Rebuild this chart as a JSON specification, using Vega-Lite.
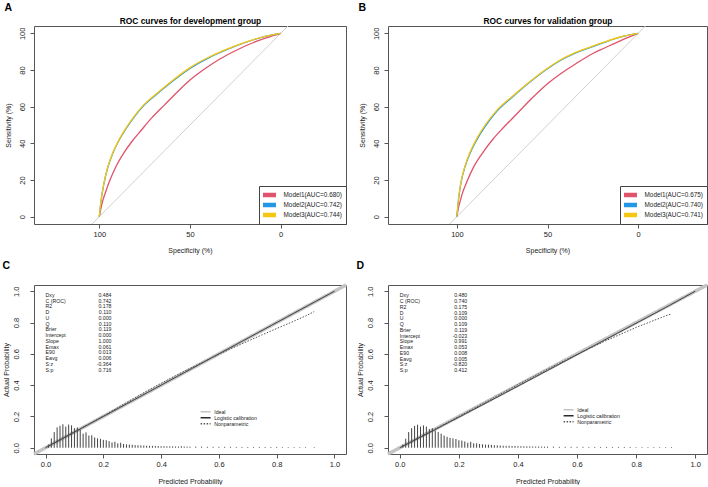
{
"$schema": "https://vega.github.io/schema/vega-lite/v6.json",
"background": "white",
"padding": {"left": 2, "top": 2, "right": 0, "bottom": 0},
"config": {
  "font": "Liberation Sans",
  "view": {"stroke": "#555", "strokeWidth": 1},
  "axis": {"grid": false, "domain": false, "tickColor": "#555", "tickSize": 4, "labelFontSize": 7.5, "titleFontSize": 7, "titleFontWeight": "normal", "labelColor": "#222", "titleColor": "#222", "labelFlush": false, "labelOverlap": false},
  "title": {"anchor": "start", "frame": "bounds", "fontSize": 10.5, "fontWeight": "bold", "color": "black"}
},
"columns": 2,
"bounds": "flush",
"spacing": {"row": 61, "column": 42},
"resolve": {"scale": {"color": "independent", "strokeDash": "independent"}, "legend": {"color": "independent", "strokeDash": "independent"}},
"datasets": {
  "diag": [{"spec": 140, "sens": -40}, {"spec": -40, "sens": 140}],
  "rocA": [
    {"model": "Model1(AUC=0.680)", "spec": 100, "sens": 0}, {"model": "Model1(AUC=0.680)", "spec": 99, "sens": 5}, {"model": "Model1(AUC=0.680)", "spec": 98, "sens": 9}, {"model": "Model1(AUC=0.680)", "spec": 96.5, "sens": 13.5}, {"model": "Model1(AUC=0.680)", "spec": 94.5, "sens": 19}, {"model": "Model1(AUC=0.680)", "spec": 91, "sens": 27}, {"model": "Model1(AUC=0.680)", "spec": 86, "sens": 35.5}, {"model": "Model1(AUC=0.680)", "spec": 82, "sens": 41}, {"model": "Model1(AUC=0.680)", "spec": 77, "sens": 47}, {"model": "Model1(AUC=0.680)", "spec": 71, "sens": 54}, {"model": "Model1(AUC=0.680)", "spec": 64, "sens": 61}, {"model": "Model1(AUC=0.680)", "spec": 57, "sens": 68}, {"model": "Model1(AUC=0.680)", "spec": 50, "sens": 74.5}, {"model": "Model1(AUC=0.680)", "spec": 42, "sens": 80.5}, {"model": "Model1(AUC=0.680)", "spec": 33.5, "sens": 86}, {"model": "Model1(AUC=0.680)", "spec": 25, "sens": 90.5}, {"model": "Model1(AUC=0.680)", "spec": 15, "sens": 95}, {"model": "Model1(AUC=0.680)", "spec": 8, "sens": 97.5}, {"model": "Model1(AUC=0.680)", "spec": 0, "sens": 100},
    {"model": "Model2(AUC=0.742)", "spec": 100, "sens": 0}, {"model": "Model2(AUC=0.742)", "spec": 99, "sens": 8.8}, {"model": "Model2(AUC=0.742)", "spec": 97.5, "sens": 17.8}, {"model": "Model2(AUC=0.742)", "spec": 95.2, "sens": 27.2}, {"model": "Model2(AUC=0.742)", "spec": 92.5, "sens": 34.7}, {"model": "Model2(AUC=0.742)", "spec": 89.4, "sens": 41.1}, {"model": "Model2(AUC=0.742)", "spec": 85.2, "sens": 48.1}, {"model": "Model2(AUC=0.742)", "spec": 80.6, "sens": 54.6}, {"model": "Model2(AUC=0.742)", "spec": 75, "sens": 61.1}, {"model": "Model2(AUC=0.742)", "spec": 68, "sens": 67.1}, {"model": "Model2(AUC=0.742)", "spec": 60, "sens": 73.6}, {"model": "Model2(AUC=0.742)", "spec": 50, "sens": 80.9}, {"model": "Model2(AUC=0.742)", "spec": 40, "sens": 86.5}, {"model": "Model2(AUC=0.742)", "spec": 33, "sens": 89.7}, {"model": "Model2(AUC=0.742)", "spec": 25, "sens": 93}, {"model": "Model2(AUC=0.742)", "spec": 15, "sens": 96.5}, {"model": "Model2(AUC=0.742)", "spec": 8, "sens": 98.45}, {"model": "Model2(AUC=0.742)", "spec": 0, "sens": 100},
    {"model": "Model3(AUC=0.744)", "spec": 100, "sens": 0}, {"model": "Model3(AUC=0.744)", "spec": 99, "sens": 9}, {"model": "Model3(AUC=0.744)", "spec": 97.5, "sens": 18}, {"model": "Model3(AUC=0.744)", "spec": 95.2, "sens": 27.5}, {"model": "Model3(AUC=0.744)", "spec": 92.5, "sens": 35}, {"model": "Model3(AUC=0.744)", "spec": 89.4, "sens": 41.5}, {"model": "Model3(AUC=0.744)", "spec": 85.2, "sens": 48.5}, {"model": "Model3(AUC=0.744)", "spec": 80.6, "sens": 55}, {"model": "Model3(AUC=0.744)", "spec": 75, "sens": 61.5}, {"model": "Model3(AUC=0.744)", "spec": 68, "sens": 67.5}, {"model": "Model3(AUC=0.744)", "spec": 60, "sens": 74}, {"model": "Model3(AUC=0.744)", "spec": 50, "sens": 81.3}, {"model": "Model3(AUC=0.744)", "spec": 40, "sens": 86.8}, {"model": "Model3(AUC=0.744)", "spec": 33, "sens": 90}, {"model": "Model3(AUC=0.744)", "spec": 25, "sens": 93.2}, {"model": "Model3(AUC=0.744)", "spec": 15, "sens": 96.6}, {"model": "Model3(AUC=0.744)", "spec": 8, "sens": 98.5}, {"model": "Model3(AUC=0.744)", "spec": 0, "sens": 100}
  ],
  "rocB": [
    {"model": "Model1(AUC=0.675)", "spec": 100, "sens": 0}, {"model": "Model1(AUC=0.675)", "spec": 99.1, "sens": 5}, {"model": "Model1(AUC=0.675)", "spec": 98, "sens": 9}, {"model": "Model1(AUC=0.675)", "spec": 97.2, "sens": 12}, {"model": "Model1(AUC=0.675)", "spec": 94.5, "sens": 19}, {"model": "Model1(AUC=0.675)", "spec": 90.8, "sens": 27}, {"model": "Model1(AUC=0.675)", "spec": 85.3, "sens": 35.5}, {"model": "Model1(AUC=0.675)", "spec": 79.9, "sens": 42.5}, {"model": "Model1(AUC=0.675)", "spec": 74.4, "sens": 48.5}, {"model": "Model1(AUC=0.675)", "spec": 67, "sens": 56}, {"model": "Model1(AUC=0.675)", "spec": 59.7, "sens": 63.5}, {"model": "Model1(AUC=0.675)", "spec": 50, "sens": 72.5}, {"model": "Model1(AUC=0.675)", "spec": 42, "sens": 78.5}, {"model": "Model1(AUC=0.675)", "spec": 35, "sens": 83}, {"model": "Model1(AUC=0.675)", "spec": 25, "sens": 89}, {"model": "Model1(AUC=0.675)", "spec": 18.5, "sens": 92}, {"model": "Model1(AUC=0.675)", "spec": 9.3, "sens": 96.2}, {"model": "Model1(AUC=0.675)", "spec": 0, "sens": 100},
    {"model": "Model2(AUC=0.740)", "spec": 100, "sens": 0}, {"model": "Model2(AUC=0.740)", "spec": 99.1, "sens": 9.3}, {"model": "Model2(AUC=0.740)", "spec": 97.8, "sens": 18.2}, {"model": "Model2(AUC=0.740)", "spec": 95.4, "sens": 27.5}, {"model": "Model2(AUC=0.740)", "spec": 92.7, "sens": 34.6}, {"model": "Model2(AUC=0.740)", "spec": 89, "sens": 41.9}, {"model": "Model2(AUC=0.740)", "spec": 84.4, "sens": 49.2}, {"model": "Model2(AUC=0.740)", "spec": 78, "sens": 57.5}, {"model": "Model2(AUC=0.740)", "spec": 69, "sens": 65.6}, {"model": "Model2(AUC=0.740)", "spec": 60, "sens": 73.2}, {"model": "Model2(AUC=0.740)", "spec": 50, "sens": 80.7}, {"model": "Model2(AUC=0.740)", "spec": 42, "sens": 85.7}, {"model": "Model2(AUC=0.740)", "spec": 35, "sens": 89.1}, {"model": "Model2(AUC=0.740)", "spec": 25, "sens": 92.8}, {"model": "Model2(AUC=0.740)", "spec": 18.5, "sens": 95.1}, {"model": "Model2(AUC=0.740)", "spec": 10, "sens": 97.9}, {"model": "Model2(AUC=0.740)", "spec": 0, "sens": 100},
    {"model": "Model3(AUC=0.741)", "spec": 100, "sens": 0}, {"model": "Model3(AUC=0.741)", "spec": 99.1, "sens": 9.5}, {"model": "Model3(AUC=0.741)", "spec": 97.8, "sens": 18.5}, {"model": "Model3(AUC=0.741)", "spec": 95.4, "sens": 28}, {"model": "Model3(AUC=0.741)", "spec": 92.7, "sens": 35.3}, {"model": "Model3(AUC=0.741)", "spec": 89, "sens": 42.7}, {"model": "Model3(AUC=0.741)", "spec": 84.4, "sens": 50}, {"model": "Model3(AUC=0.741)", "spec": 78, "sens": 58}, {"model": "Model3(AUC=0.741)", "spec": 69, "sens": 66}, {"model": "Model3(AUC=0.741)", "spec": 60, "sens": 73.5}, {"model": "Model3(AUC=0.741)", "spec": 50, "sens": 81}, {"model": "Model3(AUC=0.741)", "spec": 42, "sens": 86}, {"model": "Model3(AUC=0.741)", "spec": 35, "sens": 89.3}, {"model": "Model3(AUC=0.741)", "spec": 25, "sens": 93}, {"model": "Model3(AUC=0.741)", "spec": 18.5, "sens": 95.3}, {"model": "Model3(AUC=0.741)", "spec": 10, "sens": 98}, {"model": "Model3(AUC=0.741)", "spec": 0, "sens": 100}
  ],
  "calC": [
    {"type": "Ideal", "p": -0.04, "a": -0.04}, {"type": "Ideal", "p": 1.04, "a": 1.04},
    {"type": "Logistic calibration", "p": 0, "a": 0}, {"type": "Logistic calibration", "p": 0.5, "a": 0.5}, {"type": "Logistic calibration", "p": 1, "a": 1},
    {"type": "Nonparametric", "p": 0.01, "a": 0.012}, {"type": "Nonparametric", "p": 0.05, "a": 0.052}, {"type": "Nonparametric", "p": 0.1, "a": 0.101}, {"type": "Nonparametric", "p": 0.15, "a": 0.152}, {"type": "Nonparametric", "p": 0.2, "a": 0.203}, {"type": "Nonparametric", "p": 0.25, "a": 0.256}, {"type": "Nonparametric", "p": 0.3, "a": 0.31}, {"type": "Nonparametric", "p": 0.35, "a": 0.362}, {"type": "Nonparametric", "p": 0.4, "a": 0.412}, {"type": "Nonparametric", "p": 0.45, "a": 0.461}, {"type": "Nonparametric", "p": 0.5, "a": 0.507}, {"type": "Nonparametric", "p": 0.55, "a": 0.552}, {"type": "Nonparametric", "p": 0.6, "a": 0.597}, {"type": "Nonparametric", "p": 0.65, "a": 0.64}, {"type": "Nonparametric", "p": 0.7, "a": 0.681}, {"type": "Nonparametric", "p": 0.75, "a": 0.722}, {"type": "Nonparametric", "p": 0.8, "a": 0.762}, {"type": "Nonparametric", "p": 0.85, "a": 0.801}, {"type": "Nonparametric", "p": 0.9, "a": 0.842}, {"type": "Nonparametric", "p": 0.93, "a": 0.87}
  ],
  "calD": [
    {"type": "Ideal", "p": -0.04, "a": -0.04}, {"type": "Ideal", "p": 1.04, "a": 1.04},
    {"type": "Logistic calibration", "p": 0, "a": 0}, {"type": "Logistic calibration", "p": 0.1, "a": 0.097}, {"type": "Logistic calibration", "p": 0.3, "a": 0.294}, {"type": "Logistic calibration", "p": 0.5, "a": 0.494}, {"type": "Logistic calibration", "p": 0.7, "a": 0.695}, {"type": "Logistic calibration", "p": 0.9, "a": 0.896}, {"type": "Logistic calibration", "p": 1, "a": 1},
    {"type": "Nonparametric", "p": 0.01, "a": 0.011}, {"type": "Nonparametric", "p": 0.05, "a": 0.05}, {"type": "Nonparametric", "p": 0.1, "a": 0.1}, {"type": "Nonparametric", "p": 0.2, "a": 0.2}, {"type": "Nonparametric", "p": 0.3, "a": 0.302}, {"type": "Nonparametric", "p": 0.4, "a": 0.404}, {"type": "Nonparametric", "p": 0.5, "a": 0.502}, {"type": "Nonparametric", "p": 0.6, "a": 0.597}, {"type": "Nonparametric", "p": 0.7, "a": 0.686}, {"type": "Nonparametric", "p": 0.8, "a": 0.769}, {"type": "Nonparametric", "p": 0.9, "a": 0.843}, {"type": "Nonparametric", "p": 0.92, "a": 0.856}
  ],
  "spikesC": [
    {"p": 0.01, "h": 0.02}, {"p": 0.02, "h": 0.06}, {"p": 0.03, "h": 0.1}, {"p": 0.04, "h": 0.13}, {"p": 0.05, "h": 0.14}, {"p": 0.06, "h": 0.15}, {"p": 0.07, "h": 0.135}, {"p": 0.08, "h": 0.148}, {"p": 0.09, "h": 0.143}, {"p": 0.1, "h": 0.125}, {"p": 0.11, "h": 0.13}, {"p": 0.12, "h": 0.115}, {"p": 0.13, "h": 0.09}, {"p": 0.14, "h": 0.098}, {"p": 0.15, "h": 0.078}, {"p": 0.16, "h": 0.08}, {"p": 0.17, "h": 0.066}, {"p": 0.18, "h": 0.06}, {"p": 0.19, "h": 0.057}, {"p": 0.2, "h": 0.05}, {"p": 0.21, "h": 0.048}, {"p": 0.22, "h": 0.042}, {"p": 0.23, "h": 0.034}, {"p": 0.24, "h": 0.038}, {"p": 0.25, "h": 0.028}, {"p": 0.26, "h": 0.032}, {"p": 0.27, "h": 0.024}, {"p": 0.28, "h": 0.022}, {"p": 0.29, "h": 0.02}, {"p": 0.3, "h": 0.019}, {"p": 0.31, "h": 0.017}, {"p": 0.32, "h": 0.016}, {"p": 0.33, "h": 0.015}, {"p": 0.34, "h": 0.014}, {"p": 0.35, "h": 0.013}, {"p": 0.36, "h": 0.012}, {"p": 0.37, "h": 0.012}, {"p": 0.38, "h": 0.011}, {"p": 0.39, "h": 0.011}, {"p": 0.4, "h": 0.01}, {"p": 0.41, "h": 0.01}, {"p": 0.42, "h": 0.009}, {"p": 0.43, "h": 0.009}, {"p": 0.44, "h": 0.009}, {"p": 0.45, "h": 0.008}, {"p": 0.46, "h": 0.008}, {"p": 0.47, "h": 0.01}, {"p": 0.48, "h": 0.008}, {"p": 0.49, "h": 0.007}, {"p": 0.5, "h": 0.007}, {"p": 0.52, "h": 0.007}, {"p": 0.54, "h": 0.007}, {"p": 0.56, "h": 0.006}, {"p": 0.58, "h": 0.006}, {"p": 0.6, "h": 0.006}, {"p": 0.62, "h": 0.006}, {"p": 0.64, "h": 0.006}, {"p": 0.66, "h": 0.005}, {"p": 0.68, "h": 0.005}, {"p": 0.7, "h": 0.005}, {"p": 0.72, "h": 0.005}, {"p": 0.74, "h": 0.005}, {"p": 0.76, "h": 0.005}, {"p": 0.78, "h": 0.005}, {"p": 0.8, "h": 0.005}, {"p": 0.82, "h": 0.004}, {"p": 0.84, "h": 0.004}, {"p": 0.86, "h": 0.004}, {"p": 0.88, "h": 0.004}, {"p": 0.9, "h": 0.004}, {"p": 0.93, "h": 0.004}
  ],
  "spikesD": [
    {"p": 0.01, "h": 0.02}, {"p": 0.02, "h": 0.058}, {"p": 0.03, "h": 0.1}, {"p": 0.04, "h": 0.125}, {"p": 0.05, "h": 0.14}, {"p": 0.06, "h": 0.147}, {"p": 0.07, "h": 0.135}, {"p": 0.08, "h": 0.143}, {"p": 0.09, "h": 0.135}, {"p": 0.1, "h": 0.12}, {"p": 0.11, "h": 0.125}, {"p": 0.12, "h": 0.11}, {"p": 0.13, "h": 0.1}, {"p": 0.14, "h": 0.09}, {"p": 0.15, "h": 0.078}, {"p": 0.16, "h": 0.07}, {"p": 0.17, "h": 0.063}, {"p": 0.18, "h": 0.06}, {"p": 0.19, "h": 0.056}, {"p": 0.2, "h": 0.048}, {"p": 0.21, "h": 0.046}, {"p": 0.22, "h": 0.04}, {"p": 0.23, "h": 0.032}, {"p": 0.24, "h": 0.038}, {"p": 0.25, "h": 0.028}, {"p": 0.26, "h": 0.028}, {"p": 0.27, "h": 0.024}, {"p": 0.28, "h": 0.022}, {"p": 0.29, "h": 0.02}, {"p": 0.3, "h": 0.02}, {"p": 0.31, "h": 0.018}, {"p": 0.32, "h": 0.016}, {"p": 0.33, "h": 0.015}, {"p": 0.34, "h": 0.014}, {"p": 0.35, "h": 0.013}, {"p": 0.36, "h": 0.012}, {"p": 0.37, "h": 0.012}, {"p": 0.38, "h": 0.011}, {"p": 0.39, "h": 0.011}, {"p": 0.4, "h": 0.01}, {"p": 0.41, "h": 0.01}, {"p": 0.42, "h": 0.009}, {"p": 0.43, "h": 0.009}, {"p": 0.44, "h": 0.009}, {"p": 0.45, "h": 0.008}, {"p": 0.46, "h": 0.008}, {"p": 0.47, "h": 0.008}, {"p": 0.48, "h": 0.007}, {"p": 0.49, "h": 0.007}, {"p": 0.5, "h": 0.007}, {"p": 0.52, "h": 0.007}, {"p": 0.54, "h": 0.006}, {"p": 0.56, "h": 0.006}, {"p": 0.58, "h": 0.006}, {"p": 0.6, "h": 0.006}, {"p": 0.62, "h": 0.006}, {"p": 0.64, "h": 0.005}, {"p": 0.66, "h": 0.005}, {"p": 0.68, "h": 0.005}, {"p": 0.7, "h": 0.005}, {"p": 0.72, "h": 0.005}, {"p": 0.74, "h": 0.005}, {"p": 0.76, "h": 0.005}, {"p": 0.78, "h": 0.005}, {"p": 0.8, "h": 0.004}, {"p": 0.82, "h": 0.004}, {"p": 0.84, "h": 0.004}, {"p": 0.86, "h": 0.004}, {"p": 0.88, "h": 0.004}, {"p": 0.9, "h": 0.004}, {"p": 0.92, "h": 0.004}
  ],
  "statsC": [
    {"stat": "Dxy", "value": "0.484"}, {"stat": "C (ROC)", "value": "0.742"}, {"stat": "R2", "value": "0.178"}, {"stat": "D", "value": "0.110"}, {"stat": "U", "value": "0.000"}, {"stat": "Q", "value": "0.110"}, {"stat": "Brier", "value": "0.119"}, {"stat": "Intercept", "value": "0.000"}, {"stat": "Slope", "value": "1.000"}, {"stat": "Emax", "value": "0.061"}, {"stat": "E90", "value": "0.013"}, {"stat": "Eavg", "value": "0.006"}, {"stat": "S:z", "value": "-0.364"}, {"stat": "S:p", "value": "0.716"}
  ],
  "statsD": [
    {"stat": "Dxy", "value": "0.480"}, {"stat": "C (ROC)", "value": "0.740"}, {"stat": "R2", "value": "0.175"}, {"stat": "D", "value": "0.109"}, {"stat": "U", "value": "0.000"}, {"stat": "Q", "value": "0.109"}, {"stat": "Brier", "value": "0.119"}, {"stat": "Intercept", "value": "-0.023"}, {"stat": "Slope", "value": "0.991"}, {"stat": "Emax", "value": "0.053"}, {"stat": "E90", "value": "0.008"}, {"stat": "Eavg", "value": "0.005"}, {"stat": "S:z", "value": "-0.820"}, {"stat": "S:p", "value": "0.412"}
  ]
},
"concat": [
  {
    "title": {"text": "A", "offset": 3},
    "width": 312, "height": 198,
    "layer": [
      {"data": {"name": "diag"},
       "mark": {"type": "line", "color": "#d0d0d0", "strokeWidth": 1, "clip": true},
       "encoding": {
         "x": {"field": "spec", "type": "quantitative", "scale": {"domain": [-36, 136], "reverse": true, "nice": false, "zero": false},
               "axis": {"orient": "top", "title": "ROC curves for development group", "labels": false, "ticks": false, "domain": false, "titleFontSize": 8.4, "titleFontWeight": "bold", "titleColor": "black", "titlePadding": 1}},
         "y": {"field": "sens", "type": "quantitative", "scale": {"domain": [-4, 104], "nice": false, "zero": false},
               "axis": {"values": [0, 20, 40, 60, 80, 100], "title": "Sensitivity (%)", "labelAngle": 270, "labelAlign": "center", "labelBaseline": "bottom", "labelPadding": 3.5, "titlePadding": 7}}}},
      {"data": {"name": "rocA"},
       "mark": {"type": "line", "strokeWidth": 1.3, "interpolate": "monotone"},
       "encoding": {
         "x": {"field": "spec", "type": "quantitative", "scale": {"domain": [-36, 136], "reverse": true, "nice": false, "zero": false},
               "axis": {"values": [100, 50, 0], "title": "Specificity (%)", "labelPadding": 2, "titlePadding": 8.5}},
         "y": {"field": "sens", "type": "quantitative", "scale": {"domain": [-4, 104], "nice": false, "zero": false},
               "axis": {"values": [0, 20, 40, 60, 80, 100], "title": "Sensitivity (%)", "labelAngle": 270, "labelAlign": "center", "labelBaseline": "bottom", "labelPadding": 3.5, "titlePadding": 7}},
         "color": {"field": "model", "type": "nominal",
                   "scale": {"domain": ["Model1(AUC=0.680)", "Model2(AUC=0.742)", "Model3(AUC=0.744)"], "range": ["#DF536B", "#2297E6", "#F5C710"]},
                   "legend": {"title": null, "orient": "bottom-right", "offset": 0, "strokeColor": "#444", "fillColor": "white", "padding": 4, "symbolType": "M-2.6,0H2.6", "symbolSize": 25, "symbolStrokeWidth": 4.5, "symbolOffset": 1.5, "clipHeight": 10, "labelFontSize": 6.4, "labelOffset": 9, "rowPadding": 0, "labelColor": "#222"}}}}
    ],
    "resolve": {"axis": {"x": "independent"}}
  },
  {
    "title": {"text": "B", "offset": 3},
    "width": 319, "height": 198,
    "layer": [
      {"data": {"name": "diag"},
       "mark": {"type": "line", "color": "#d0d0d0", "strokeWidth": 1, "clip": true},
       "encoding": {
         "x": {"field": "spec", "type": "quantitative", "scale": {"domain": [-38, 138], "reverse": true, "nice": false, "zero": false},
               "axis": {"orient": "top", "title": "ROC curves for validation group", "labels": false, "ticks": false, "domain": false, "titleFontSize": 8.4, "titleFontWeight": "bold", "titleColor": "black", "titlePadding": 1}},
         "y": {"field": "sens", "type": "quantitative", "scale": {"domain": [-4, 104], "nice": false, "zero": false},
               "axis": {"values": [0, 20, 40, 60, 80, 100], "title": "Sensitivity (%)", "labelAngle": 270, "labelAlign": "center", "labelBaseline": "bottom", "labelPadding": 3.5, "titlePadding": 7}}}},
      {"data": {"name": "rocB"},
       "mark": {"type": "line", "strokeWidth": 1.3, "interpolate": "monotone"},
       "encoding": {
         "x": {"field": "spec", "type": "quantitative", "scale": {"domain": [-38, 138], "reverse": true, "nice": false, "zero": false},
               "axis": {"values": [100, 50, 0], "title": "Specificity (%)", "labelPadding": 2, "titlePadding": 8.5}},
         "y": {"field": "sens", "type": "quantitative", "scale": {"domain": [-4, 104], "nice": false, "zero": false},
               "axis": {"values": [0, 20, 40, 60, 80, 100], "title": "Sensitivity (%)", "labelAngle": 270, "labelAlign": "center", "labelBaseline": "bottom", "labelPadding": 3.5, "titlePadding": 7}},
         "color": {"field": "model", "type": "nominal",
                   "scale": {"domain": ["Model1(AUC=0.675)", "Model2(AUC=0.740)", "Model3(AUC=0.741)"], "range": ["#DF536B", "#2297E6", "#F5C710"]},
                   "legend": {"title": null, "orient": "bottom-right", "offset": 0, "strokeColor": "#444", "fillColor": "white", "padding": 4, "symbolType": "M-2.6,0H2.6", "symbolSize": 25, "symbolStrokeWidth": 4.5, "symbolOffset": 1.5, "clipHeight": 10, "labelFontSize": 6.4, "labelOffset": 9, "rowPadding": 0, "labelColor": "#222"}}}}
    ],
    "resolve": {"axis": {"x": "independent"}}
  },
  {
    "title": {"text": "C", "offset": 7},
    "width": 312, "height": 169,
    "layer": [
      {"data": {"name": "calC"},
       "transform": [{"filter": "datum.type === 'Ideal'"}],
       "mark": {"type": "line", "strokeWidth": 3.5},
       "encoding": {
         "x": {"field": "p", "type": "quantitative", "scale": {"domain": [-0.04, 1.04], "nice": false, "zero": false},
               "axis": {"values": [0, 0.2, 0.4, 0.6, 0.8, 1], "format": ".1f", "title": "Predicted Probability", "labelPadding": 2, "titlePadding": 9.5}},
         "y": {"field": "a", "type": "quantitative", "scale": {"domain": [-0.04, 1.04], "nice": false, "zero": false},
               "axis": {"values": [0, 0.2, 0.4, 0.6, 0.8, 1], "format": ".1f", "title": "Actual Probability", "labelAngle": 270, "labelAlign": "center", "labelBaseline": "bottom", "labelPadding": 9.5, "titlePadding": 3}},
         "color": {"field": "type", "type": "nominal", "scale": {"domain": ["Ideal", "Logistic calibration", "Nonparametric"], "range": ["#c4c4c4", "#2a2a2a", "#555555"]},
                   "legend": {"title": null, "orient": "none", "legendX": 166, "legendY": 124, "symbolType": "M-4,0H4", "symbolSize": 6.25, "symbolStrokeWidth": 1.3, "symbolOffset": 3, "clipHeight": 5.5, "labelFontSize": 5.2, "labelOffset": 6, "rowPadding": 0, "padding": 0, "labelColor": "#222"}},
         "strokeDash": {"field": "type", "type": "nominal", "scale": {"domain": ["Ideal", "Logistic calibration", "Nonparametric"], "range": [[1, 0], [1, 0], [1.5, 1.5]]},
                   "legend": {"title": null, "orient": "none", "legendX": 166, "legendY": 124, "symbolType": "M-4,0H4", "symbolSize": 6.25, "symbolStrokeWidth": 1.3, "symbolOffset": 3, "clipHeight": 5.5, "labelFontSize": 5.2, "labelOffset": 6, "rowPadding": 0, "padding": 0, "labelColor": "#222"}}}},
      {"data": {"name": "calC"},
       "transform": [{"filter": "datum.type !== 'Ideal'"}],
       "mark": {"type": "line", "strokeWidth": 1},
       "encoding": {
         "x": {"field": "p", "type": "quantitative", "scale": {"domain": [-0.04, 1.04], "nice": false, "zero": false}},
         "y": {"field": "a", "type": "quantitative", "scale": {"domain": [-0.04, 1.04], "nice": false, "zero": false}, "axis": null},
         "color": {"field": "type", "type": "nominal", "scale": {"domain": ["Ideal", "Logistic calibration", "Nonparametric"], "range": ["#c4c4c4", "#2a2a2a", "#555555"]}},
         "strokeDash": {"field": "type", "type": "nominal", "scale": {"domain": ["Ideal", "Logistic calibration", "Nonparametric"], "range": [[1, 0], [1, 0], [1.5, 1.5]]}}}},
      {"data": {"name": "spikesC"},
       "mark": {"type": "rule", "color": "#444", "strokeWidth": 1},
       "encoding": {
         "x": {"field": "p", "type": "quantitative", "scale": {"domain": [-0.04, 1.04], "nice": false, "zero": false}},
         "y": {"field": "h", "type": "quantitative", "scale": {"domain": [-0.04, 1.04], "nice": false, "zero": false}, "axis": null},
         "y2": {"datum": 0}}},
      {"data": {"name": "statsC"},
       "mark": {"type": "text", "align": "left", "baseline": "middle", "fontSize": 5.2, "color": "#222"},
       "encoding": {
         "x": {"datum": 0, "type": "quantitative", "scale": {"domain": [-0.04, 1.04], "nice": false, "zero": false}},
         "y": {"field": "stat", "type": "ordinal", "scale": {"type": "point", "domain": ["Dxy", "C (ROC)", "R2", "D", "U", "Q", "Brier", "Intercept", "Slope", "Emax", "E90", "Eavg", "S:z", "S:p"], "range": [10, 84.5], "padding": 0}, "axis": null},
         "text": {"field": "stat"}}},
      {"data": {"name": "statsC"},
       "mark": {"type": "text", "align": "right", "baseline": "middle", "fontSize": 5.2, "color": "#222"},
       "encoding": {
         "x": {"datum": 0.228, "type": "quantitative", "scale": {"domain": [-0.04, 1.04], "nice": false, "zero": false}},
         "y": {"field": "stat", "type": "ordinal", "scale": {"type": "point", "domain": ["Dxy", "C (ROC)", "R2", "D", "U", "Q", "Brier", "Intercept", "Slope", "Emax", "E90", "Eavg", "S:z", "S:p"], "range": [10, 84.5], "padding": 0}, "axis": null},
         "text": {"field": "value"}}}
    ],
    "resolve": {"scale": {"y": "independent"}}
  },
  {
    "title": {"text": "D", "offset": 7},
    "width": 319, "height": 169,
    "layer": [
      {"data": {"name": "calD"},
       "transform": [{"filter": "datum.type === 'Ideal'"}],
       "mark": {"type": "line", "strokeWidth": 3.5},
       "encoding": {
         "x": {"field": "p", "type": "quantitative", "scale": {"domain": [-0.04, 1.04], "nice": false, "zero": false},
               "axis": {"values": [0, 0.2, 0.4, 0.6, 0.8, 1], "format": ".1f", "title": "Predicted Probability", "labelPadding": 2, "titlePadding": 9.5}},
         "y": {"field": "a", "type": "quantitative", "scale": {"domain": [-0.04, 1.04], "nice": false, "zero": false},
               "axis": {"values": [0, 0.2, 0.4, 0.6, 0.8, 1], "format": ".1f", "title": "Actual Probability", "labelAngle": 270, "labelAlign": "center", "labelBaseline": "bottom", "labelPadding": 9.5, "titlePadding": 3}},
         "color": {"field": "type", "type": "nominal", "scale": {"domain": ["Ideal", "Logistic calibration", "Nonparametric"], "range": ["#c4c4c4", "#2a2a2a", "#555555"]},
                   "legend": {"title": null, "orient": "none", "legendX": 175, "legendY": 122, "symbolType": "M-4,0H4", "symbolSize": 6.25, "symbolStrokeWidth": 1.3, "symbolOffset": 3, "clipHeight": 5.5, "labelFontSize": 5.2, "labelOffset": 6, "rowPadding": 0, "padding": 0, "labelColor": "#222"}},
         "strokeDash": {"field": "type", "type": "nominal", "scale": {"domain": ["Ideal", "Logistic calibration", "Nonparametric"], "range": [[1, 0], [1, 0], [1.5, 1.5]]},
                   "legend": {"title": null, "orient": "none", "legendX": 175, "legendY": 122, "symbolType": "M-4,0H4", "symbolSize": 6.25, "symbolStrokeWidth": 1.3, "symbolOffset": 3, "clipHeight": 5.5, "labelFontSize": 5.2, "labelOffset": 6, "rowPadding": 0, "padding": 0, "labelColor": "#222"}}}},
      {"data": {"name": "calD"},
       "transform": [{"filter": "datum.type !== 'Ideal'"}],
       "mark": {"type": "line", "strokeWidth": 1},
       "encoding": {
         "x": {"field": "p", "type": "quantitative", "scale": {"domain": [-0.04, 1.04], "nice": false, "zero": false}},
         "y": {"field": "a", "type": "quantitative", "scale": {"domain": [-0.04, 1.04], "nice": false, "zero": false}, "axis": null},
         "color": {"field": "type", "type": "nominal", "scale": {"domain": ["Ideal", "Logistic calibration", "Nonparametric"], "range": ["#c4c4c4", "#2a2a2a", "#555555"]}},
         "strokeDash": {"field": "type", "type": "nominal", "scale": {"domain": ["Ideal", "Logistic calibration", "Nonparametric"], "range": [[1, 0], [1, 0], [1.5, 1.5]]}}}},
      {"data": {"name": "spikesD"},
       "mark": {"type": "rule", "color": "#444", "strokeWidth": 1},
       "encoding": {
         "x": {"field": "p", "type": "quantitative", "scale": {"domain": [-0.04, 1.04], "nice": false, "zero": false}},
         "y": {"field": "h", "type": "quantitative", "scale": {"domain": [-0.04, 1.04], "nice": false, "zero": false}, "axis": null},
         "y2": {"datum": 0}}},
      {"data": {"name": "statsD"},
       "mark": {"type": "text", "align": "left", "baseline": "middle", "fontSize": 5.2, "color": "#222"},
       "encoding": {
         "x": {"datum": 0, "type": "quantitative", "scale": {"domain": [-0.04, 1.04], "nice": false, "zero": false}},
         "y": {"field": "stat", "type": "ordinal", "scale": {"type": "point", "domain": ["Dxy", "C (ROC)", "R2", "D", "U", "Q", "Brier", "Intercept", "Slope", "Emax", "E90", "Eavg", "S:z", "S:p"], "range": [10.3, 85], "padding": 0}, "axis": null},
         "text": {"field": "stat"}}},
      {"data": {"name": "statsD"},
       "mark": {"type": "text", "align": "right", "baseline": "middle", "fontSize": 5.2, "color": "#222"},
       "encoding": {
         "x": {"datum": 0.228, "type": "quantitative", "scale": {"domain": [-0.04, 1.04], "nice": false, "zero": false}},
         "y": {"field": "stat", "type": "ordinal", "scale": {"type": "point", "domain": ["Dxy", "C (ROC)", "R2", "D", "U", "Q", "Brier", "Intercept", "Slope", "Emax", "E90", "Eavg", "S:z", "S:p"], "range": [10.3, 85], "padding": 0}, "axis": null},
         "text": {"field": "value"}}}
    ],
    "resolve": {"scale": {"y": "independent"}}
  }
]
}
